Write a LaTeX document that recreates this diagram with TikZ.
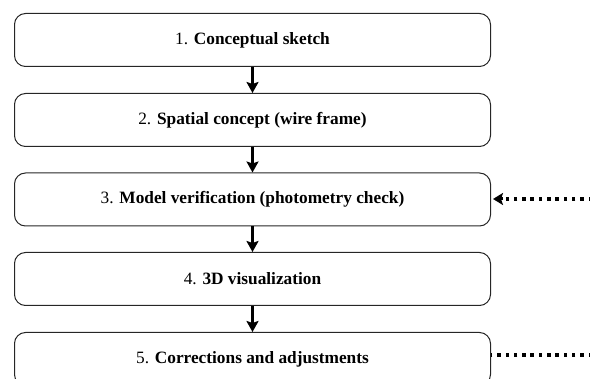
\documentclass[tikz,border=0pt]{standalone}
\usepackage{fontspec}
\setmainfont{Liberation Serif}
\usetikzlibrary{arrows.meta}
\begin{document}
\begin{tikzpicture}[x=1pt,y=-1pt,
  stepbox/.style={draw=black!85, line width=1pt, rounded corners=11pt, minimum width=476pt, minimum height=53pt, inner sep=0pt, font=\fontsize{17.3}{20}\selectfont, anchor=north west},
  flow/.style={line width=3pt, -{Stealth[length=11pt,width=12pt,inset=2pt]}},
  loop/.style={line width=3.3pt, dash pattern=on 3.5pt off 4.8pt}]
\useasboundingbox (0,0) rectangle (590,379);
\clip (0,0) rectangle (590,379);
\node[stepbox] (s1) at (14,13) {1. \textbf{Conceptual sketch}};
\node[stepbox] (s2) at (14,93) {2. \textbf{Spatial concept (wire frame)}};
\node[stepbox] (s3) at (14,172.5) {3. \textbf{Model verification (photometry check)}};
\node[stepbox] (s4) at (14,252) {4. \textbf{3D visualization}};
\node[stepbox] (s5) at (14,332) {5. \textbf{Corrections and adjustments}};
\draw[flow] (s1.south) -- (s2.north);
\draw[flow] (s2.south) -- (s3.north);
\draw[flow] (s3.south) -- (s4.north);
\draw[flow] (s4.south) -- (s5.north);
\coordinate (r3) at (592,199);
\coordinate (r5) at (592,355);
\draw[loop] (r5) -- (s5.east |- r5);
\draw[loop] (r3) -- ([xshift=12pt]s3.east |- r3);
\draw[line width=3pt, -{Stealth[length=10pt,width=12pt,inset=2pt]}] ([xshift=12pt]s3.east |- r3) -- ([xshift=2pt]s3.east |- r3);
\end{tikzpicture}
\end{document}
